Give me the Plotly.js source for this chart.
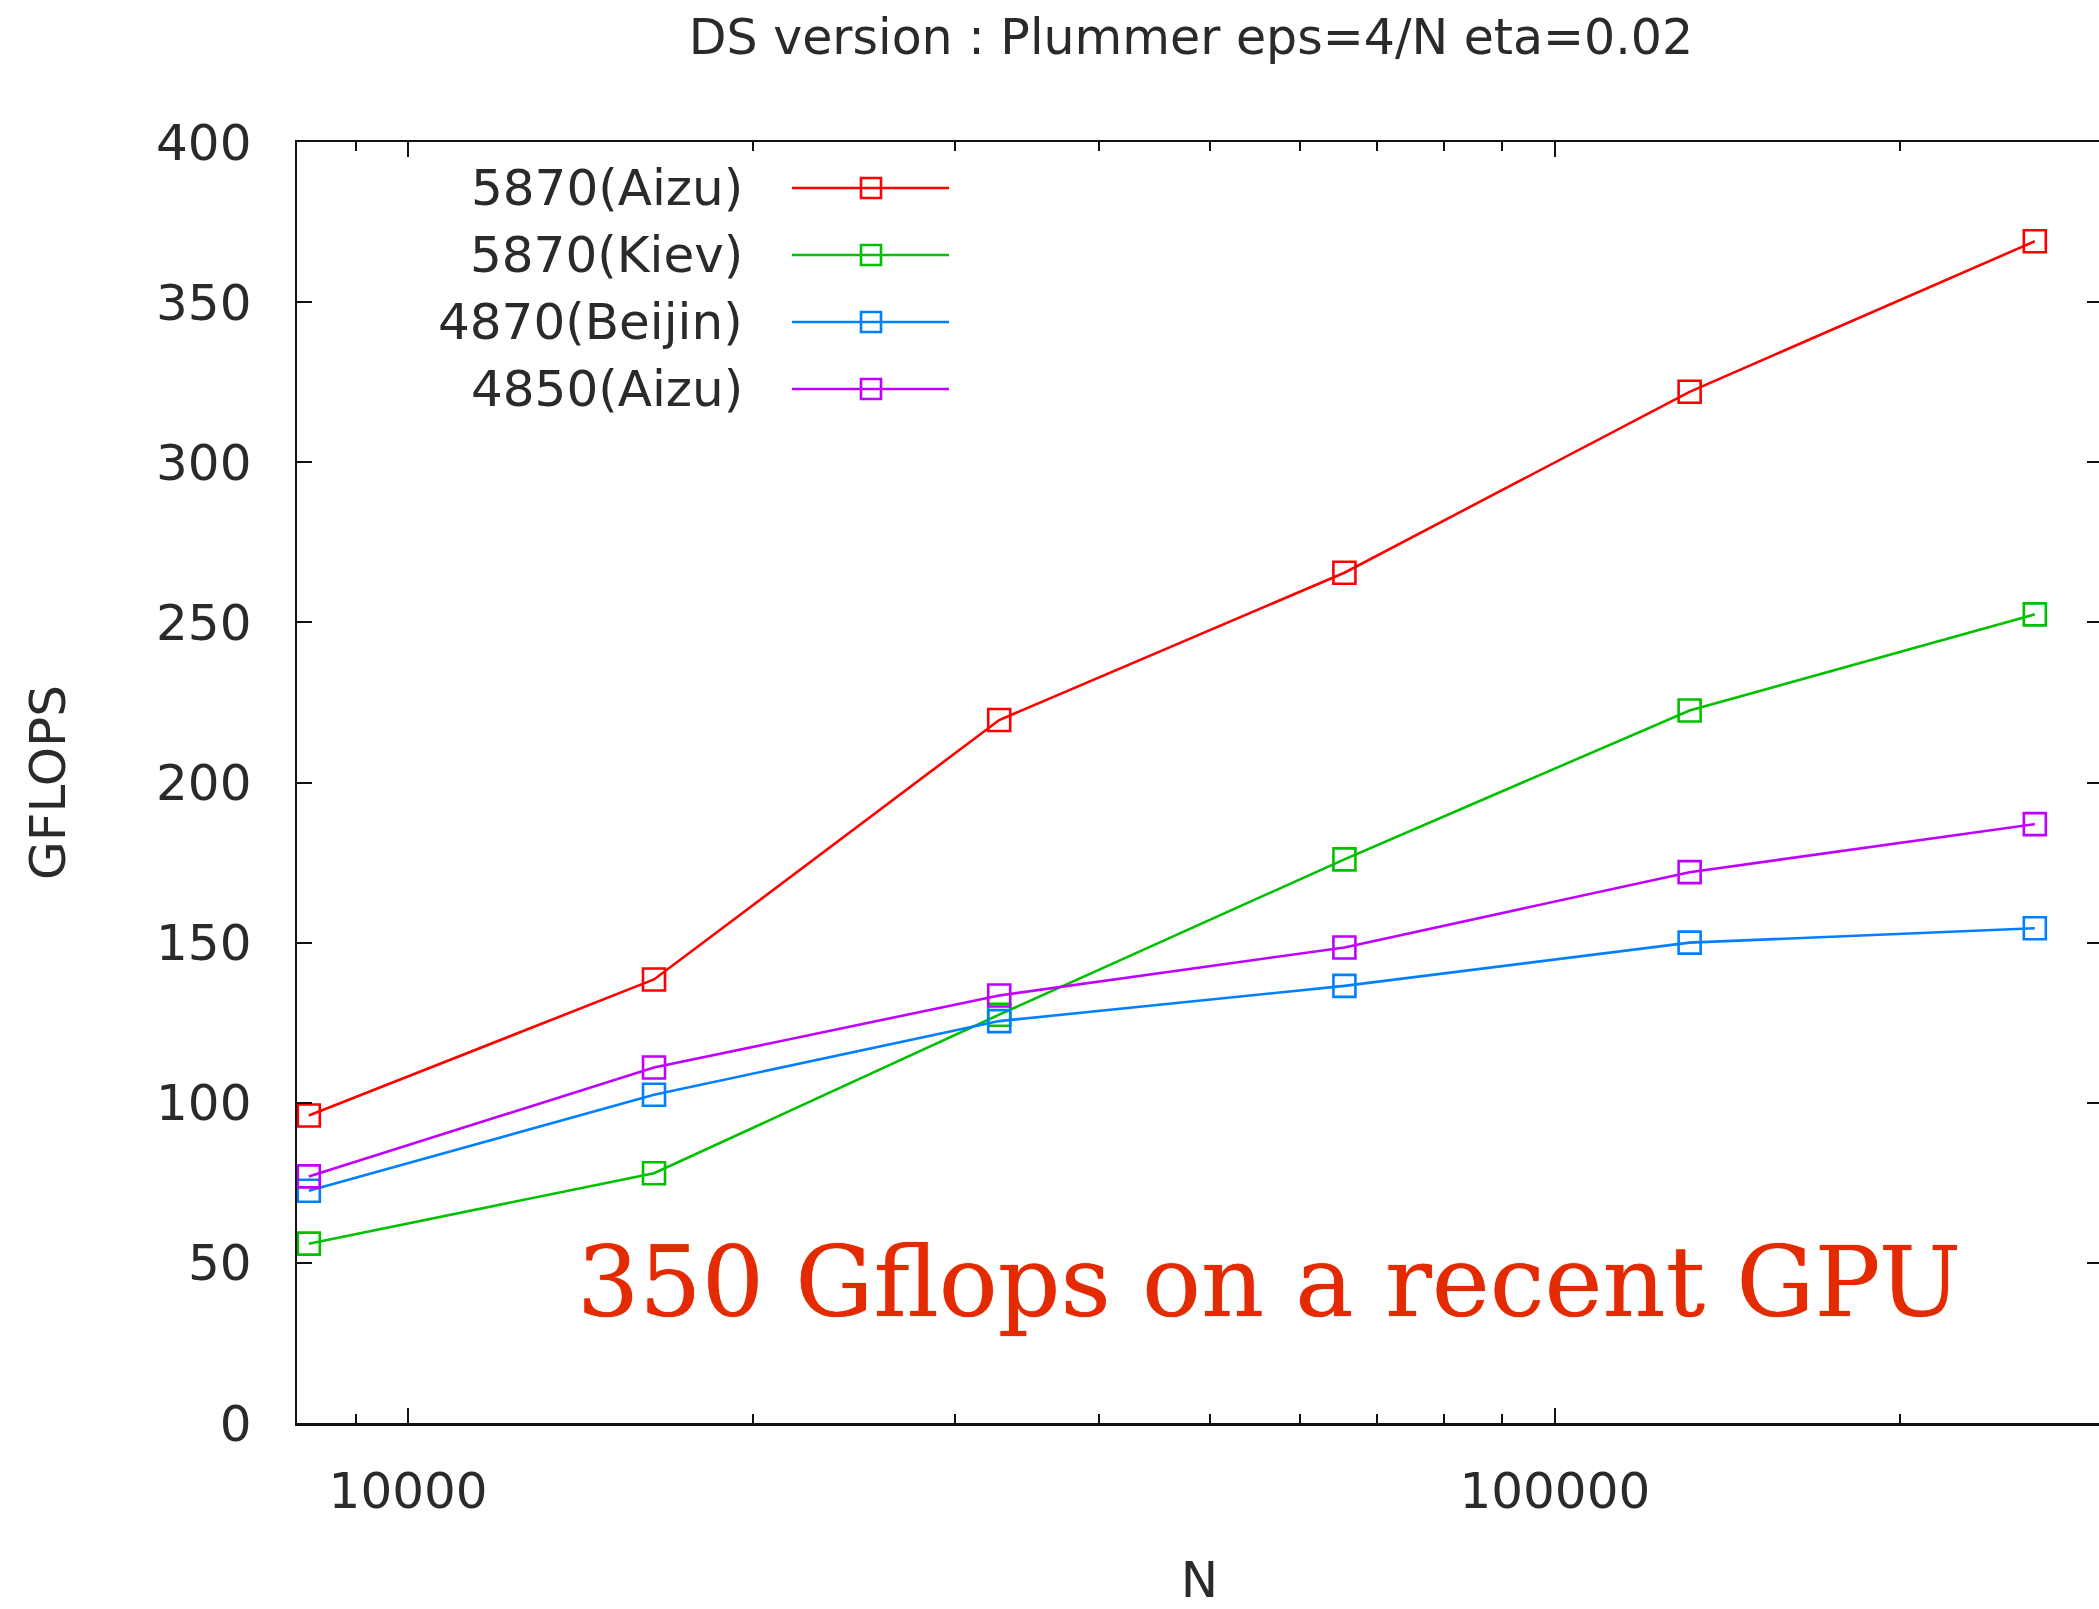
<!DOCTYPE html>
<html>
<head>
<meta charset="utf-8">
<script src="https://cdn.plot.ly/plotly-3.0.1.min.js"></script>
<style>
  html, body { margin: 0; padding: 0; overflow: hidden; background: #fff; }
  #chart { width: 2104px; height: 1609px; }
</style>
</head>
<body>
<div id="chart"></div>
<script>
// ---- data ----
var nValues = [8192, 16384, 32768, 65536, 131072, 262144];
var seriesNames = ["5870(Aizu)", "5870(Kiev)", "4870(Beijin)", "4850(Aizu)"];
var gflops5870Aizu   = [96, 138.5, 219.5, 265.5, 322, 369];
var gflops5870Kiev   = [56, 78, 127.5, 176, 222.5, 252.5];
var gflops4870Beijin = [72.5, 102.5, 125.5, 136.5, 150, 154.5];
var gflops4850Aizu   = [77, 111, 133.5, 148.5, 172, 187];
var yTickVals = [0, 50, 100, 150, 200, 250, 300, 350, 400];
var xTickVals = [10000, 100000];
var xTickText = ["10000", "100000"];
var chartTitle = "DS version : Plummer eps=4/N eta=0.02";
var xTitle = "N";
var yTitle = "GFLOPS";
var noteText = "350 Gflops on a recent GPU";

// ---- styles ----
var colors = ["#ff0000", "#00c000", "#0080ff", "#c000ff"];
var allSeries = [gflops5870Aizu, gflops5870Kiev, gflops4870Beijin, gflops4850Aizu];
var W = 2104, H = 1609;
var M = {l: 297, r: 2, t: 142, b: 186};
var plotW = W - M.l - M.r, plotH = H - M.t - M.b;
function px2paperX(px) { return (px - M.l) / plotW; }
function px2paperY(py) { return (H - M.b - py) / plotH; }
var textColor = "#2a2a2a";
var baseFont = {family: "DejaVu Sans", size: 50, color: textColor};
var titleFont = {family: "DejaVu Sans", size: 49, color: textColor};

var traces = allSeries.map(function (vals, i) {
  return {
    x: nValues, y: vals, name: seriesNames[i],
    type: "scatter", mode: "lines+markers",
    line: {color: colors[i], width: 2.6},
    marker: {symbol: "square-open", size: 22, color: colors[i], line: {color: colors[i], width: 2.6}},
    showlegend: false, cliponaxis: false
  };
});

// gnuplot-style key: right-aligned label, then line sample with marker
var legendRowsPx = [188, 255, 322, 389];
var shapes = [], annotations = [];
seriesNames.forEach(function (name, i) {
  var yp = px2paperY(legendRowsPx[i]);
  annotations.push({
    xref: "paper", yref: "paper", x: px2paperX(745), y: yp,
    xanchor: "right", yanchor: "middle", showarrow: false,
    text: name, font: baseFont
  });
  shapes.push({
    type: "line", xref: "paper", yref: "paper",
    x0: px2paperX(792), x1: px2paperX(949), y0: yp, y1: yp,
    line: {color: colors[i], width: 2.6}
  });
  shapes.push({
    type: "rect", xref: "paper", yref: "paper",
    xsizemode: "pixel", ysizemode: "pixel",
    xanchor: px2paperX(871), yanchor: yp,
    x0: -10, x1: 10, y0: -10, y1: 10,
    line: {color: colors[i], width: 2.6}, fillcolor: "rgba(0,0,0,0)"
  });
});

annotations.push({
  xref: "paper", yref: "paper", x: px2paperX(1269), y: px2paperY(1282),
  xanchor: "center", yanchor: "middle", showarrow: false,
  text: noteText,
  font: {family: "DejaVu Serif", size: 98, color: "#e32a00", shadow: "0px 0px 1px #e32a00"}
});

var layout = {
  width: W, height: H, margin: M,
  paper_bgcolor: "#ffffff", plot_bgcolor: "#ffffff",
  font: baseFont,
  title: {
    text: chartTitle, font: titleFont,
    xref: "container", x: 1191 / W, xanchor: "center",
    yref: "container", y: 1 - 37 / H, yanchor: "middle"
  },
  xaxis: {
    type: "log",
    range: [Math.log10(8000), Math.log10(300000)],
    tickvals: xTickVals, ticktext: xTickText,
    ticks: "inside", ticklen: 15, tickwidth: 2, tickcolor: "#111",
    minor: {ticks: "inside", ticklen: 9, tickwidth: 2, tickcolor: "#111", dtick: "D1", showgrid: false},
    showline: true, linecolor: "#111", linewidth: 2.5, mirror: "allticks",
    showgrid: false, zeroline: false,
    tickfont: baseFont, ticklabelstandoff: 22,
    title: {text: xTitle, font: baseFont, standoff: 84},
    automargin: false
  },
  yaxis: {
    range: [0, 400],
    tickvals: yTickVals,
    ticks: "inside", ticklen: 15, tickwidth: 2, tickcolor: "#111",
    showline: true, linecolor: "#111", linewidth: 2.5, mirror: "allticks",
    showgrid: false, zeroline: false,
    tickfont: baseFont, ticklabelstandoff: 33,
    title: {text: yTitle, font: baseFont, standoff: 75},
    automargin: false
  },
  shapes: shapes,
  annotations: annotations,
  showlegend: false
};

Plotly.newPlot("chart", traces, layout, {displayModeBar: false, staticPlot: true});
</script>
</body>
</html>
